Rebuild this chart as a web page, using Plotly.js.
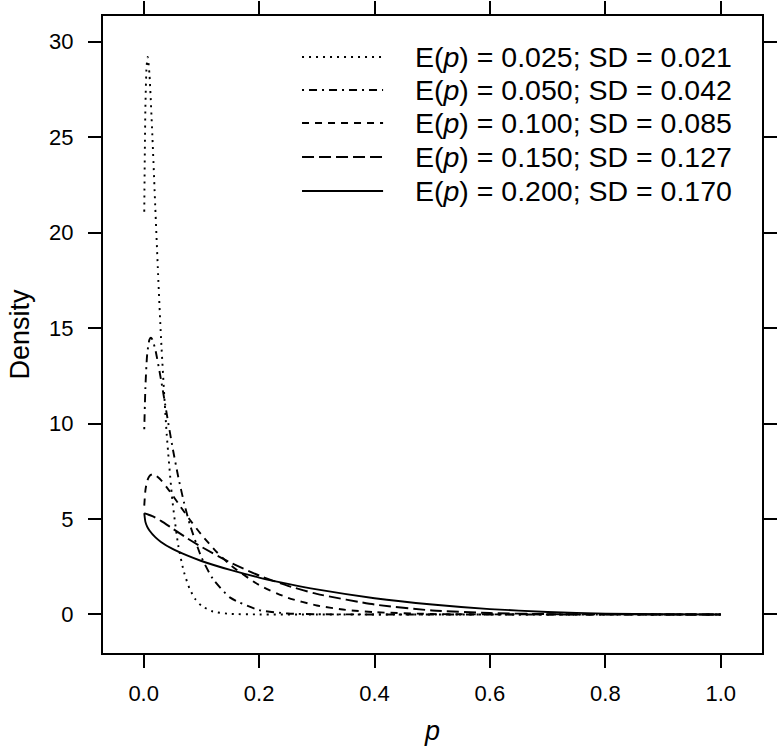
<!DOCTYPE html>
<html>
<head>
<meta charset="utf-8">
<script src="https://cdn.plot.ly/plotly-3.0.1.min.js"></script>
<style>
  html, body { margin: 0; padding: 0; background: #fff; }
  #chart { width: 779px; height: 750px; }
</style>
</head>
<body>
<div id="chart"></div>
<script>
// Beta densities for five prior means
var legendLabels = [
  'E(<i>p</i>) = 0.025; SD = 0.021',
  'E(<i>p</i>) = 0.050; SD = 0.042',
  'E(<i>p</i>) = 0.100; SD = 0.085',
  'E(<i>p</i>) = 0.150; SD = 0.127',
  'E(<i>p</i>) = 0.200; SD = 0.170'
];

var p1 = [0.001, 0.002, 0.003, 0.005, 0.007, 0.01, 0.015, 0.02, 0.025, 0.03, 0.04, 0.05, 0.06, 0.07, 0.08, 0.09, 0.1, 0.12, 0.15, 0.2, 0.3, 0.5, 0.75, 1.0];
var d1 = [21.1, 24.3, 26.6, 28.7, 29.2, 28.3, 25.1, 21.4, 17.8, 14.5, 9.4, 5.9, 3.6, 2.2, 1.32, 0.78, 0.46, 0.15, 0.03, 0.001, 0, 0, 0, 0];

var p2 = [0.001, 0.003, 0.006, 0.01, 0.0125, 0.015, 0.02, 0.03, 0.04, 0.05, 0.06, 0.07, 0.08, 0.1, 0.12, 0.15, 0.2, 0.25, 0.3, 0.4, 0.6, 0.8, 1.0];
var d2 = [9.7, 11.9, 13.6, 14.4, 14.5, 14.4, 13.9, 12.3, 10.5, 8.75, 7.19, 5.85, 4.71, 3.0, 1.86, 0.88, 0.23, 0.05, 0.01, 0, 0, 0, 0];

var p3 = [0.001, 0.003, 0.006, 0.01, 0.015, 0.02, 0.03, 0.04, 0.05, 0.06, 0.08, 0.1, 0.125, 0.15, 0.2, 0.25, 0.3, 0.35, 0.4, 0.5, 0.6, 0.8, 1.0];
var d3 = [5.7, 6.5, 6.99, 7.25, 7.34, 7.3, 7.04, 6.66, 6.25, 5.81, 4.96, 4.18, 3.32, 2.6, 1.54, 0.87, 0.47, 0.24, 0.12, 0.022, 0.003, 0, 0];

var p4 = [0.001, 0.003, 0.007, 0.015, 0.03, 0.05, 0.075, 0.1, 0.15, 0.2, 0.25, 0.3, 0.4, 0.5, 0.6, 0.7, 0.8, 0.9, 1.0];
var d4 = [5.3, 5.28, 5.24, 5.15, 4.9, 4.5, 4.0, 3.54, 2.72, 2.04, 1.5, 1.08, 0.52, 0.21, 0.073, 0.018, 0.003, 0, 0];

var p5 = [0.001, 0.003, 0.006, 0.01, 0.02, 0.03, 0.05, 0.075, 0.1, 0.15, 0.2, 0.25, 0.3, 0.4, 0.5, 0.6, 0.7, 0.8, 0.9, 1.0];
var d5 = [5.3, 4.85, 4.6, 4.4, 4.05, 3.8, 3.43, 3.09, 2.8, 2.33, 1.93, 1.6, 1.31, 0.85, 0.52, 0.28, 0.13, 0.045, 0.007, 0];

var xTicks = [0, 0.2, 0.4, 0.6, 0.8, 1.0];
var xTickText = ['0.0', '0.2', '0.4', '0.6', '0.8', '1.0'];
var yTicks = [0, 5, 10, 15, 20, 25, 30];

var dashes = ['2px,5px', '2px,5px,8px,5px', '7px,6px', '12px,5px', 'solid'];
var xs = [p1, p2, p3, p4, p5];
var ys = [d1, d2, d3, d4, d5];

var font = 'Liberation Sans, Arial, sans-serif';

var traces = xs.map(function (x, i) {
  return {
    x: x,
    y: ys[i],
    mode: 'lines',
    name: legendLabels[i],
    line: { color: '#000', width: 1.9, dash: dashes[i], shape: 'spline', smoothing: 0.6 },
    hoverinfo: 'skip'
  };
});

// hand-drawn key so the sample lines get the long R look
var shapes = [];
var annotations = [];
var keyY = [0.9356, 0.8838, 0.8320, 0.7786, 0.7253];
keyY.forEach(function (y, i) {
  shapes.push({
    type: 'line', xref: 'paper', yref: 'paper',
    x0: 0.302, x1: 0.425, y0: y, y1: y,
    line: { color: '#000', width: 1.9, dash: dashes[i] }
  });
  annotations.push({
    xref: 'paper', yref: 'paper', x: 0.47, y: y,
    xanchor: 'left', yanchor: 'middle', showarrow: false,
    text: legendLabels[i],
    font: { family: font, size: 28.5, color: '#000' }
  });
});

var axisCommon = {
  ticks: 'outside', ticklen: 13, tickwidth: 2, tickcolor: '#000',
  showline: true, linewidth: 2, linecolor: '#000', mirror: 'allticks',
  showgrid: false, zeroline: false,
  tickfont: { family: font, size: 22, color: '#000' }
};

var layout = {
  width: 779, height: 750,
  margin: { l: 103, r: 17, t: 16, b: 97 },
  paper_bgcolor: '#fff', plot_bgcolor: '#fff',
  showlegend: false,
  xaxis: Object.assign({}, axisCommon, {
    range: [-0.0705, 1.0715],
    tickvals: xTicks, ticktext: xTickText,
    ticklabelstandoff: 7,
    title: { text: '<i>p</i>', font: { family: font, size: 27, color: '#000' }, standoff: 16 }
  }),
  yaxis: Object.assign({}, axisCommon, {
    range: [-2.02, 31.35],
    tickvals: yTicks,
    ticklabelstandoff: 10,
    title: { text: 'Density', font: { family: font, size: 27, color: '#000' }, standoff: 12 }
  }),
  shapes: shapes,
  annotations: annotations
};

Plotly.newPlot('chart', traces, layout, { staticPlot: true });
</script>
</body>
</html>
